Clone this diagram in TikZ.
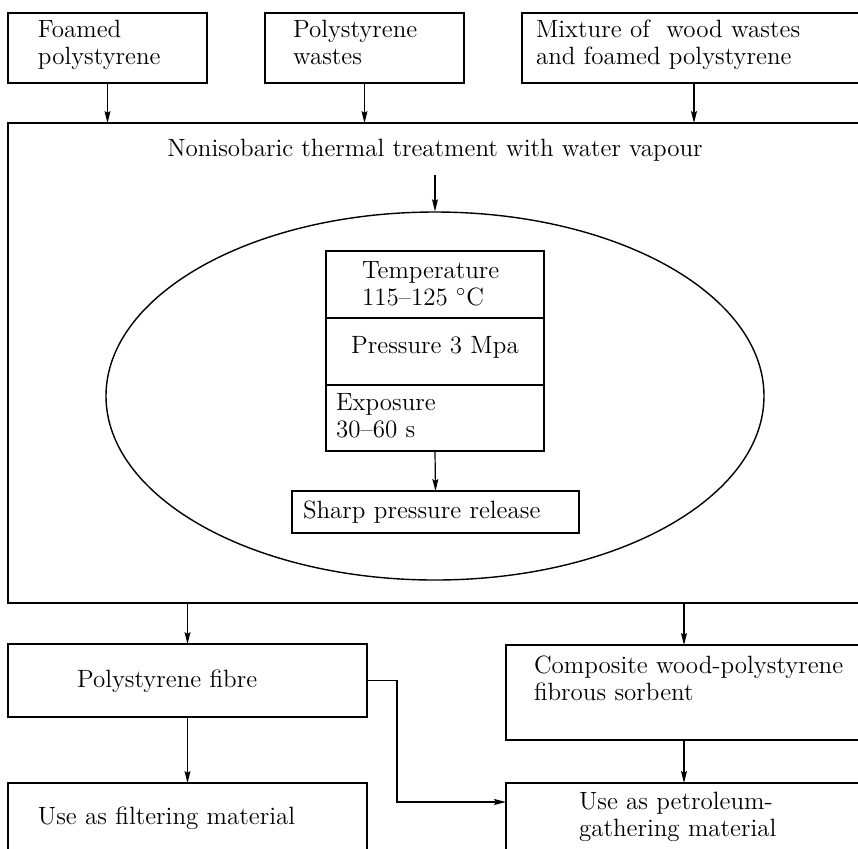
\documentclass[tikz,border=0pt]{standalone}
\usepackage{tikz}
\usetikzlibrary{positioning, arrows.meta, shapes.geometric}

\newcommand{\boxfont}{\fontsize{12.5}{13.5}\selectfont}

\begin{document}
\begin{tikzpicture}[
  x=0.5pt, y=-0.5pt,
  box/.style={
    rectangle, draw, line width=0.8pt, anchor=north west,
    outer sep=0pt, inner ysep=3pt, align=left, font=\boxfont
  },
  cell/.style={
    box, text width=#1
  },
  chamberbox/.style={
    ellipse, draw, line width=0.7pt, inner sep=0pt,
    minimum width=329pt, minimum height=184pt
  },
  flow/.style={-{Stealth[length=6pt, width=3pt, inset=1pt]}, line width=0.6pt},
]
\clip (0,0) rectangle (858,848);

%% ── Raw materials ────────────────────────────────────────────────────────────
\node[box, inner xsep=15pt, text width=69.5pt, text height=9pt, text depth=20pt]
  (foamed) at (8,13) {Foamed\\polystyrene};
\node[box, inner xsep=14pt, text width=71.5pt, text height=9pt, text depth=20pt]
  (pswaste) at (265,13) {Polystyrene\\wastes};
\node[box, inner xsep=7pt, text width=158pt, text height=9pt, text depth=20pt]
  (mixture) at (522,13) {Mixture of\ \ wood wastes\\and foamed polystyrene};

%% ── Thermal treatment ────────────────────────────────────────────────────────
\node[draw, line width=0.8pt, anchor=north west, outer sep=0pt, inner sep=0pt,
  minimum width=427pt, minimum height=240pt] (treat) at (8,123) {};
\node[font=\boxfont] (title) at (435,150)
  {Nonisobaric thermal treatment with water vapour};
\coordinate (drop) at (435,175);

\node[chamberbox] (chamber) at (435,396) {};

\node[cell=73pt, inner xsep=18pt, text height=10.5pt, text depth=17pt]
  (temp) at (326,251) {Temperature\\115--125 $^{\circ}$C};
\node[cell=109pt, inner xsep=0pt, align=center, text height=14.5pt, text depth=13pt]
  (press) at (326,318) {Pressure 3 Mpa};
\node[cell=99pt, inner xsep=5pt, text height=9.5pt, text depth=17.5pt]
  (expo) at (326,385) {Exposure\\30--60 s};
\node[cell=132.5pt, inner xsep=5.5pt, text height=10.5pt, text depth=4.5pt]
  (sharp) at (292,491) {Sharp pressure release};

%% ── Products ─────────────────────────────────────────────────────────────────
\node[box, inner xsep=34.5pt, text width=110.5pt, text height=18.5pt, text depth=12pt]
  (fibre) at (8,644) {Polystyrene fibre};
\node[box, inner xsep=14pt, text width=150pt, text height=11pt, text depth=30.5pt]
  (compo) at (506,645) {\mbox{Composite wood-polystyrene}\\fibrous sorbent};
\node[box, inner xsep=15pt, text width=149.5pt, text height=17.5pt, text depth=30pt]
  (filter) at (8,783) {Use as filtering material};
\node[box, inner xsep=36.5pt, text width=105pt, text height=10pt, text depth=40pt]
  (petrol) at (506,783) {Use as petroleum-\\gathering material};
\coordinate (bend) at (397,802);

%% ── Arrows ───────────────────────────────────────────────────────────────────
\draw[flow] (foamed.south)  -- (foamed.south |- treat.north);
\draw[flow] (pswaste.south) -- (pswaste.south |- treat.north);
\draw[flow] (mixture.south) -- (mixture.south |- treat.north);
\draw[flow] (drop) -- (chamber.north);
\draw[flow] (expo.south) -- (sharp.north);
\draw[flow] (fibre.north |- treat.south) -- (fibre.north);
\draw[flow] (compo.north |- treat.south) -- (compo.north);
\draw[flow] (fibre.south) -- (filter.north);
\draw[flow] (compo.south) -- (petrol.north);
\draw[flow] (fibre.east) -| (bend) -- (bend -| petrol.west);

\end{tikzpicture}
\end{document}
